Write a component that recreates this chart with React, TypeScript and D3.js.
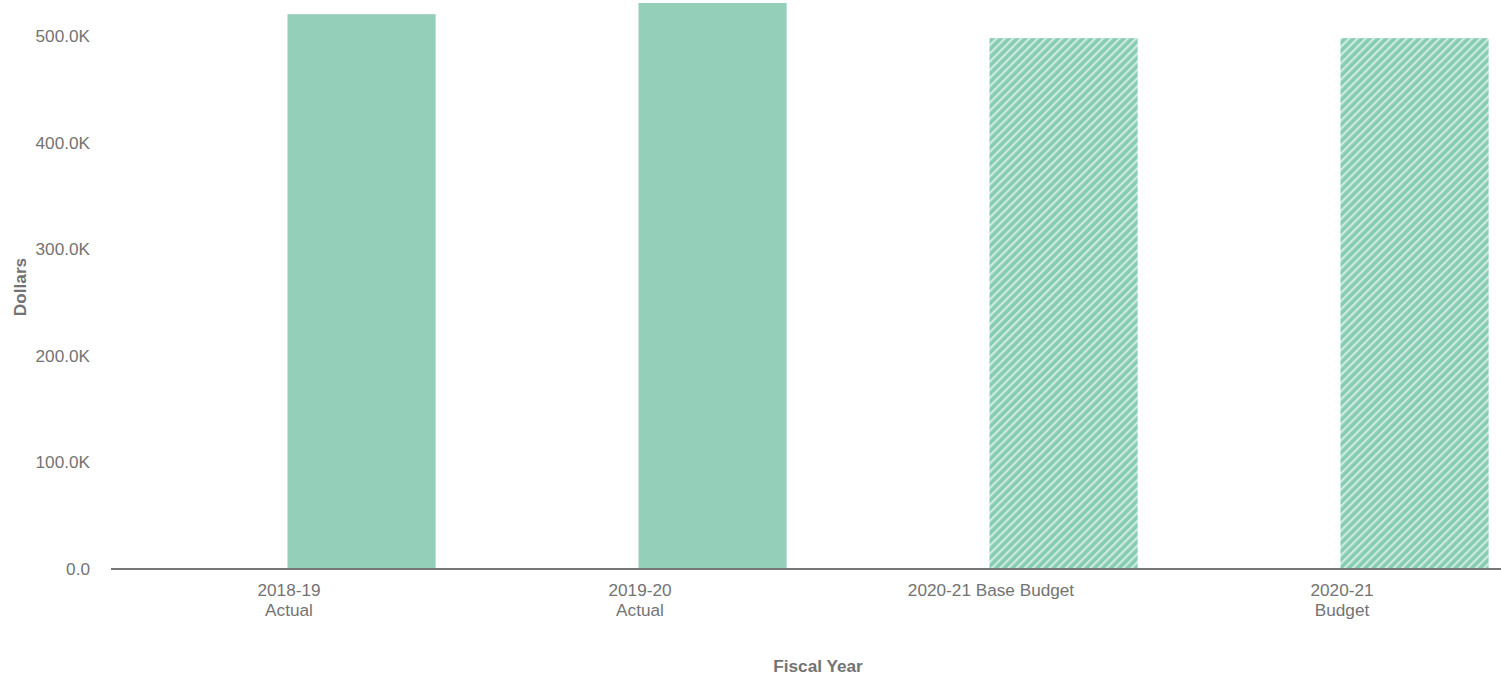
import React from "react";
import * as d3 from "d3";

const categories = ["2018-19 Actual", "2019-20 Actual", "2020-21 Base Budget", "2020-21 Budget"];
const labelLines = [["2018-19", "Actual"], ["2019-20", "Actual"], ["2020-21 Base Budget"], ["2020-21", "Budget"]];
const values = [520500, 531000, 498000, 498000];
const hatched = [false, false, true, true];
const yTicks = [0, 100000, 200000, 300000, 400000, 500000];

const W = 1501, H = 678;

export default function App() {
  const x = d3.scaleBand<string>().domain(categories).range([113.5, 1517.5]);
  const y = d3.scaleLinear().domain([0, 500000]).range([569, 36]);
  const bw = x.bandwidth() * 0.422;
  const fmt = (v: number) => (v === 0 ? "0.0" : (v / 1000).toFixed(1) + "K");
  const font = "'Liberation Sans', Arial, sans-serif";
  const fs = 17.2;
  return (
    <svg width={W} height={H} style={{ position: "absolute", left: 0, top: 0 }}>
      <defs>
        <pattern id="hatch" patternUnits="userSpaceOnUse" width={5.8} height={5.8} patternTransform="rotate(45)">
          <rect width={5.8} height={5.8} fill="#86ccb3" />
          <rect x={0} y={0} width={2.2} height={5.8} fill="#cdebe0" />
        </pattern>
      </defs>
      {categories.map((c, i) => {
        const cx = x(c)! + x.bandwidth() / 2;
        return (
          <rect key={c} x={cx - 1.5} y={y(values[i])} width={bw} height={y(0) - y(values[i])}
            fill={hatched[i] ? "url(#hatch)" : "#94cfba"} />
        );
      })}
      <line x1={111} x2={1501} y1={y(0)} y2={y(0)} stroke="#777" strokeWidth={2} />
      {yTicks.map((t) => (
        <text key={t} x={90} y={y(t) + 6} textAnchor="end" fontFamily={font} fontSize={fs} fill="#737373">{fmt(t)}</text>
      ))}
      {categories.map((c, i) => {
        const cx = x(c)! + x.bandwidth() / 2;
        return (
          <text key={c} x={cx} y={596} textAnchor="middle" fontFamily={font} fontSize={fs} fill="#737373">
            {labelLines[i].map((l, j) => (
              <tspan key={j} x={cx} dy={j === 0 ? 0 : 20}>{l}</tspan>
            ))}
          </text>
        );
      })}
      <text x={818} y={672} textAnchor="middle" fontFamily={font} fontSize={fs} fontWeight="bold" fill="#737373">Fiscal Year</text>
      <text transform="translate(26,287) rotate(-90)" textAnchor="middle" fontFamily={font} fontSize={fs} fontWeight="bold" fill="#737373">Dollars</text>
    </svg>
  );
}
